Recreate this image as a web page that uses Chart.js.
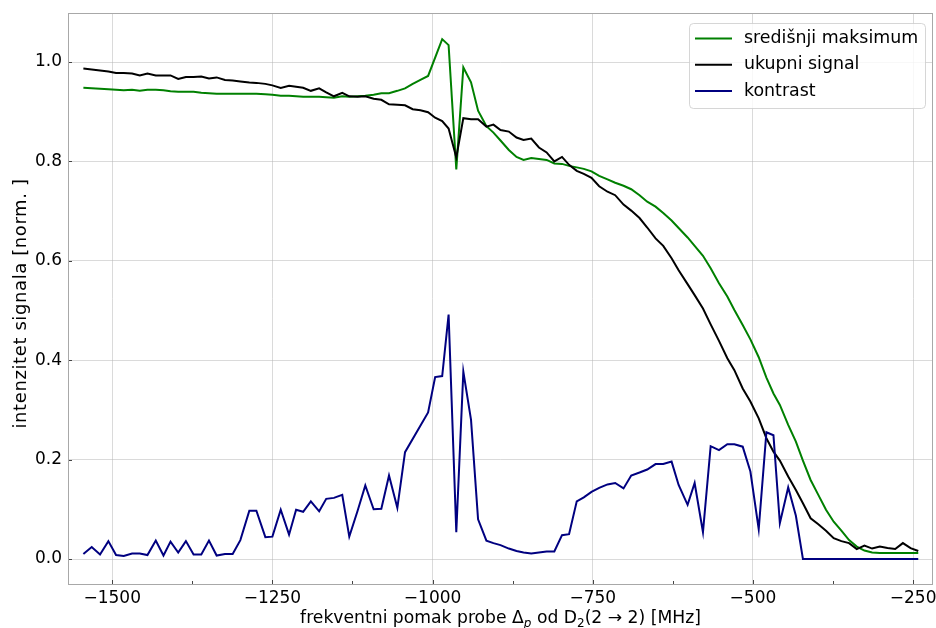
<!DOCTYPE html>
<html>
<head>
<meta charset="utf-8">
<script src="https://cdn.jsdelivr.net/npm/chart.js@4/dist/chart.umd.min.js"></script>
<style>
  html, body { margin: 0; padding: 0; background: #fff; }
  #wrap { width: 936px; height: 628px; }
</style>
</head>
<body>
<div id="wrap"><canvas id="chart"></canvas></div>
<script>
// frekvencija [MHz]
const freq = [
  -1545, -1532, -1519, -1506, -1494, -1482, -1469, -1457, -1445, -1432,
  -1420, -1409, -1397, -1385, -1373, -1361, -1349, -1337, -1324, -1312,
  -1300, -1286, -1275, -1261, -1250, -1237, -1224, -1213, -1202, -1190,
  -1177, -1166, -1154, -1141, -1130, -1117, -1105, -1092, -1080, -1068,
  -1055, -1043, -1031, -1019, -1007, -996, -985, -975, -963, -952,
  -940, -929, -916, -905, -894, -881, -869, -858, -846, -834,
  -822, -810, -798, -787, -775, -764, -752, -740, -727, -715,
  -702, -690, -677, -665, -652, -640, -627, -616, -602, -591,
  -578, -566, -553, -540, -529, -516, -504, -491, -479, -468,
  -458, -445, -433, -422, -410, -398, -386, -374, -362, -350,
  -338, -326, -314, -302, -290, -278, -266, -254, -242
];

const centralMax = [
  0.948, 0.947, 0.946, 0.945, 0.944, 0.943, 0.944, 0.942, 0.944, 0.944,
  0.943, 0.941, 0.940, 0.940, 0.940, 0.938, 0.937, 0.936, 0.936, 0.936,
  0.936, 0.936, 0.936, 0.935, 0.934, 0.932, 0.932, 0.931, 0.930, 0.930,
  0.930, 0.929, 0.928, 0.931, 0.930, 0.931, 0.932, 0.934, 0.937, 0.937,
  0.942, 0.947, 0.956, 0.964, 0.972, 1.009, 1.046, 1.034, 0.784, 0.989,
  0.959, 0.902, 0.871, 0.858, 0.842, 0.823, 0.809, 0.803, 0.807, 0.805,
  0.803, 0.796, 0.795, 0.791, 0.788, 0.785, 0.780, 0.771, 0.764, 0.757,
  0.751, 0.744, 0.732, 0.719, 0.709, 0.696, 0.681, 0.666, 0.647, 0.630,
  0.610, 0.585, 0.555, 0.528, 0.501, 0.471, 0.442, 0.406, 0.365, 0.333,
  0.310, 0.270, 0.236, 0.198, 0.159, 0.129, 0.099, 0.075, 0.057, 0.038,
  0.025, 0.017, 0.013, 0.012, 0.012, 0.012, 0.012, 0.012, 0.012
];

const totalSignal = [
  0.987, 0.985, 0.983, 0.981, 0.978, 0.978, 0.977, 0.973, 0.977, 0.973,
  0.973, 0.973, 0.966, 0.970, 0.970, 0.971, 0.967, 0.969, 0.964, 0.963,
  0.961, 0.959, 0.958, 0.956, 0.953, 0.948, 0.952, 0.950, 0.948, 0.942,
  0.947, 0.939, 0.931, 0.938, 0.931, 0.930, 0.931, 0.926, 0.924, 0.915,
  0.914, 0.913, 0.905, 0.903, 0.899, 0.888, 0.881, 0.866, 0.808, 0.887,
  0.885, 0.885, 0.870, 0.874, 0.863, 0.860, 0.848, 0.843, 0.846, 0.828,
  0.818, 0.800, 0.809, 0.793, 0.781, 0.775, 0.767, 0.750, 0.739, 0.732,
  0.713, 0.701, 0.686, 0.667, 0.645, 0.630, 0.605, 0.581, 0.553, 0.531,
  0.504, 0.472, 0.439, 0.404, 0.380, 0.343, 0.317, 0.283, 0.243, 0.216,
  0.198, 0.166, 0.139, 0.112, 0.082, 0.070, 0.057, 0.042, 0.036, 0.032,
  0.020, 0.027, 0.021, 0.025, 0.022, 0.020, 0.032, 0.022, 0.016
];

// null = nema mjerenja
const contrast = [
  0.010, 0.024, 0.009, 0.036, 0.008, 0.006, 0.011, 0.011, 0.008, 0.037,
  0.007, 0.035, 0.013, 0.036, 0.009, 0.009, 0.037, 0.007, 0.010, 0.010,
  0.038, 0.097, 0.097, 0.044, 0.045, 0.099, 0.049, 0.099, 0.095, 0.116,
  0.096, 0.121, 0.123, 0.129, 0.045, 0.097, 0.148, 0.100, 0.101, 0.168,
  0.103, 0.215, null, null, 0.295, 0.366, 0.368, 0.492, 0.054, 0.377,
  0.280, 0.080, 0.037, 0.032, 0.028, 0.021, 0.016, 0.013, 0.011, 0.013,
  0.015, 0.015, 0.048, 0.050, 0.116, 0.124, 0.135, 0.143, 0.150, 0.153,
  0.142, 0.168, 0.174, 0.180, 0.191, 0.191, 0.196, 0.149, 0.109, 0.153,
  0.054, 0.227, 0.219, 0.231, 0.231, 0.226, 0.176, 0.060, 0.255, 0.249,
  0.072, 0.144, 0.087, 0, 0, 0, 0, 0, 0, 0,
  0, 0, 0, 0, 0, 0, 0, 0, 0
];

const seriesLabels = ["središnji maksimum", "ukupni signal", "kontrast"];
const seriesColors = ["#008000", "#000000", "#000080"];

const xTicks = [-1500, -1250, -1000, -750, -500, -250];
const xMinorTicks = [-1375, -1125, -875, -625, -375];
const yTicks = [0, 0.2, 0.4, 0.6, 0.8, 1.0];

const FONT = '"DejaVu Sans"';

function toPoints(ys) {
  return freq.map((f, i) => ({ x: f, y: ys[i] }));
}

// okvir + kratke crtice prema unutra
const frameTicks = {
  id: "frameTicks",
  afterDatasetsDraw(chart) {
    const { ctx, chartArea: a, scales } = chart;
    ctx.save();
    ctx.strokeStyle = "#444";
    ctx.lineWidth = 1;
    ctx.beginPath();
    xTicks.forEach((v) => {
      const x = Math.round(scales.x.getPixelForValue(v)) + 0.5;
      ctx.moveTo(x, a.bottom);
      ctx.lineTo(x, a.bottom - 4);
    });
    xMinorTicks.forEach((v) => {
      const x = Math.round(scales.x.getPixelForValue(v)) + 0.5;
      ctx.moveTo(x, a.bottom);
      ctx.lineTo(x, a.bottom - 3);
    });
    yTicks.forEach((v) => {
      const y = Math.round(scales.y.getPixelForValue(v)) + 0.5;
      ctx.moveTo(a.left, y);
      ctx.lineTo(a.left + 4, y);
    });
    ctx.stroke();
    ctx.strokeStyle = "#a8a8a8";
    ctx.strokeRect(a.left + 0.5, a.top + 0.5, a.right - a.left - 1, a.bottom - a.top);
    ctx.restore();
  },
};

// legenda u gornjem desnom kutu
const legendBox = {
  id: "legendBox",
  afterDatasetsDraw(chart) {
    const { ctx, chartArea: a } = chart;
    const w = 236, h = 85;
    const x0 = a.right - 8 - w, y0 = a.top + 10;
    ctx.save();
    ctx.beginPath();
    ctx.roundRect(x0 + 0.5, y0 + 0.5, w, h, 4);
    ctx.fillStyle = "rgba(255,255,255,0.8)";
    ctx.fill();
    ctx.strokeStyle = "rgba(204,204,204,0.8)";
    ctx.lineWidth = 1;
    ctx.stroke();
    ctx.font = "17.4px " + FONT;
    ctx.textBaseline = "middle";
    ctx.fillStyle = "#000";
    chart.data.datasets.forEach((ds, i) => {
      const y = y0 + 15.5 + i * 26.3;
      ctx.strokeStyle = ds.borderColor;
      ctx.lineWidth = 2;
      ctx.beginPath();
      ctx.moveTo(x0 + 6, y);
      ctx.lineTo(x0 + 43, y);
      ctx.stroke();
      ctx.fillText(ds.label, x0 + 55, y);
    });
    ctx.restore();
  },
};

// naslovi osi (s indeksima)
const axisTitles = {
  id: "axisTitles",
  afterDraw(chart) {
    const { ctx, chartArea: a } = chart;
    ctx.save();
    ctx.fillStyle = "#000";
    ctx.textBaseline = "alphabetic";
    const big = "17.2px " + FONT;
    const small = "12px " + FONT;
    const smallIt = "italic 12px " + FONT;
    const parts = [
      ["frekventni pomak probe \u0394", big, 0],
      ["p", smallIt, 3.5],
      [" od D", big, 0],
      ["2", small, 3.5],
      ["(2 \u2192 2) [MHz]", big, 0],
    ];
    let total = 0;
    parts.forEach((p) => {
      ctx.font = p[1];
      total += ctx.measureText(p[0]).width;
    });
    let x = (a.left + a.right) / 2 - total / 2;
    const base = 623;
    parts.forEach((p) => {
      ctx.font = p[1];
      ctx.fillText(p[0], x, base + p[2]);
      x += ctx.measureText(p[0]).width;
    });

    ctx.translate(21, (a.top + a.bottom) / 2 + 5);
    ctx.rotate(-Math.PI / 2);
    ctx.font = "18px " + FONT;
    ctx.letterSpacing = "0.6px";
    ctx.textAlign = "center";
    ctx.textBaseline = "middle";
    ctx.fillText("intenzitet signala [norm. ]", 0, 0);
    ctx.restore();
  },
};

const ctx = document.getElementById("chart");
new Chart(ctx, {
  type: "line",
  data: {
    datasets: [
      { label: seriesLabels[0], data: toPoints(centralMax), borderColor: seriesColors[0], order: 3 },
      { label: seriesLabels[1], data: toPoints(totalSignal), borderColor: seriesColors[1], order: 2 },
      { label: seriesLabels[2], data: toPoints(contrast), borderColor: seriesColors[2], order: 1, spanGaps: true },
    ],
  },
  options: {
    responsive: true,
    maintainAspectRatio: false,
    animation: false,
    datasets: {
      line: { borderWidth: 2, pointRadius: 0, tension: 0, fill: false },
    },
    layout: { padding: { top: 13, right: 3, left: 0, bottom: 0 } },
    plugins: {
      legend: { display: false },
      tooltip: { enabled: false },
    },
    scales: {
      x: {
        type: "linear",
        min: -1569,
        max: -219,
        afterBuildTicks: (s) => { s.ticks = xTicks.map((v) => ({ value: v })); },
        afterFit: (s) => { s.height = 44; s.paddingLeft = 0; s.paddingRight = 0; },
        grid: { color: "rgba(176,176,176,0.6)", lineWidth: 0.8, drawTicks: false },
        border: { display: false },
        ticks: {
          font: { family: "DejaVu Sans", size: 17 },
          color: "#000",
          padding: 4,
          maxRotation: 0,
          autoSkip: false,
          callback: (v) => (v < 0 ? "\u2212" + Math.abs(v) : String(v)),
        },
      },
      y: {
        min: -0.0503,
        max: 1.0986,
        afterBuildTicks: (s) => { s.ticks = yTicks.map((v) => ({ value: v })); },
        afterFit: (s) => { s.width = 68; s.paddingTop = 0; s.paddingBottom = 0; },
        grid: { color: "rgba(176,176,176,0.6)", lineWidth: 0.8, drawTicks: false },
        border: { display: false },
        ticks: {
          font: { family: "DejaVu Sans", size: 17 },
          color: "#000",
          padding: 6,
          callback: (v) => v.toFixed(1),
        },
      },
    },
  },
  plugins: [frameTicks, legendBox, axisTitles],
});
</script>
</body>
</html>
